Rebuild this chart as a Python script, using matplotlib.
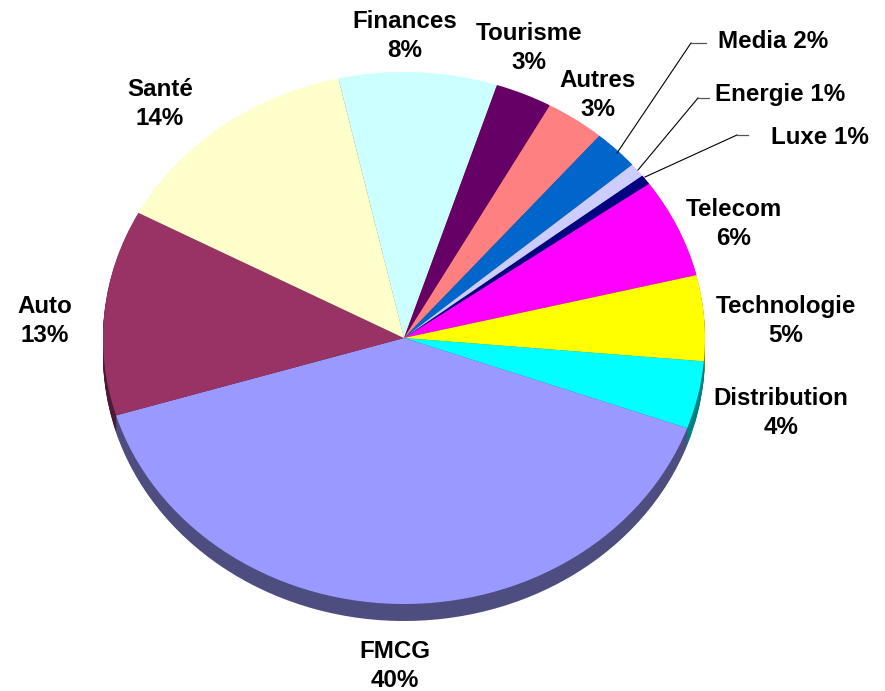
import matplotlib
matplotlib.use("Agg")
import numpy as np
import matplotlib.pyplot as plt

plt.rcParams['font.family'] = ['Liberation Sans', 'DejaVu Sans']

# valeurs, dans le sens horaire depuis Finances
secteurs = ['Finances', 'Tourisme', 'Autres', 'Media', 'Energie', 'Luxe', 'Telecom',
            'Technologie', 'Distribution', 'FMCG', 'Auto', 'Santé']
valeurs = [8.5, 3.05, 3.2, 2.45, 0.85, 0.6, 6.05, 5.2, 4.1, 39.8, 12.5, 13.7]
etiquettes = ['8%', '3%', '3%', '2%', '1%', '1%', '6%', '5%', '4%', '40%', '13%', '14%']
couleurs = ['#CCFFFF', '#660066', '#FF8080', '#0066CC', '#CCCCFF', '#000080', '#FF00FF',
            '#FFFF00', '#00FFFF', '#9999FF', '#993366', '#FFFFCC']
cotes = ['#668080', '#330033', '#804040', '#003366', '#666680', '#000040', '#800080',
         '#808000', '#008080', '#4D4D80', '#4D1A33', '#808066']

W, H = 885, 691
cx, cy, rx, ry = 404, 338, 301, 266
epaisseur = 17
angle_debut = 90 + 12.6

fig = plt.figure(figsize=(W / 100, H / 100), dpi=100)
ax = fig.add_axes([0, 0, 1, 1])

# coté du camembert : on empile des tranches sombres vers le bas
for d in np.arange(epaisseur, 0, -1):
    ax.pie(valeurs, colors=cotes, startangle=angle_debut, counterclock=False,
           center=(0, -d / ry), radius=1, normalize=True, frame=True)
ax.pie(valeurs, colors=couleurs, startangle=angle_debut, counterclock=False,
       center=(0, 0), radius=1, normalize=True, frame=True)

ax.set_aspect('auto')
ax.set_xlim(-cx / rx, (W - cx) / rx)
ax.set_ylim(-(H - cy) / ry, cy / ry)
ax.axis('off')

# positions des étiquettes en pixels
pos_labels = {
    'Finances': (405, 36), 'Tourisme': (529, 48), 'Autres': (598, 95),
    'Telecom': (734, 224), 'Technologie': (786, 321), 'Distribution': (781, 413),
    'FMCG': (395, 666), 'Auto': (45, 321), 'Santé': (160, 104),
}
pos_seuls = {'Media': (773, 42), 'Energie': (780, 94), 'Luxe': (820, 138)}
for nom, val in zip(secteurs, etiquettes):
    if nom in pos_labels:
        x, y = pos_labels[nom]
        fig.text(x / W, 1 - y / H, nom + '\n' + val, ha='center', va='center',
                 fontsize=17.4, fontweight='bold', linespacing=1.32, color='black')
    else:
        x, y = pos_seuls[nom]
        fig.text(x / W, 1 - y / H, nom + ' ' + val, ha='center', va='center',
                 fontsize=17.4, fontweight='bold', color='black')

# traits de rappel
rappels = [([617, 691], [153, 43]),
           ([638, 698], [170, 98]),
           ([645, 737], [177, 135])]
paliers = [([691, 706], [43, 43]),
           ([698, 709], [98, 98]),
           ([737, 748], [135, 135])]
for xs, ys in rappels:
    fig.add_artist(plt.Line2D(np.array(xs) / W, 1 - np.array(ys) / H, color='black', lw=0.8))
for xs, ys in paliers:
    fig.add_artist(plt.Line2D(np.array(xs) / W, 1 - np.array(ys) / H, color='#555555', lw=0.9))

plt.savefig('out.png', dpi=100)
